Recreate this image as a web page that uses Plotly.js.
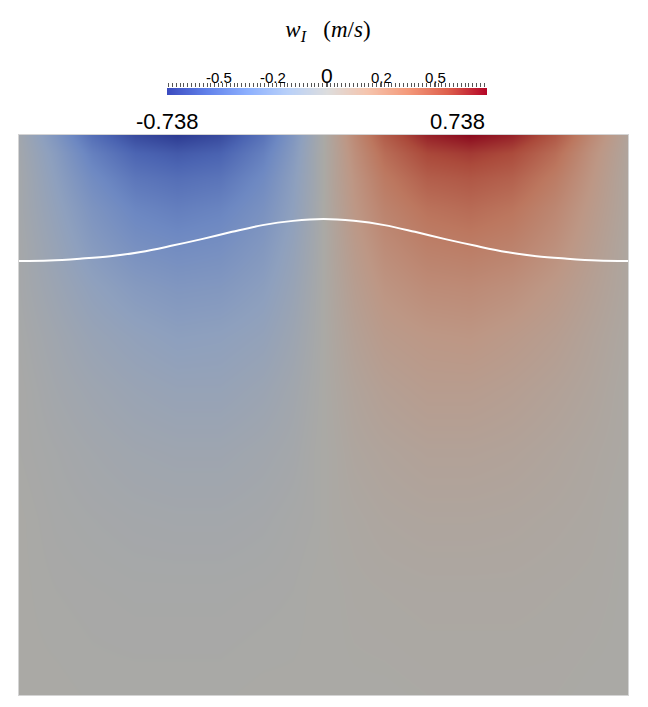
<!DOCTYPE html>
<html>
<head>
<meta charset="utf-8">
<script src="https://cdn.plot.ly/plotly-3.0.1.min.js"></script>
<style>html,body{margin:0;padding:0;background:#fff;}#chart{width:648px;height:707px;}</style>
</head>
<body>
<div id="chart"></div>
<script>
// ---- field sample grid (x across the domain, elevation downward from the top) ----
const gridX = [0, 0.6, 1.2, 1.9, 2.6, 3.3, 4.0, 4.5, 4.85, 5.15, 5.5, 6.0, 6.7, 7.4, 8.1, 8.8, 9.4, 10];
const gridDepth = [0, -0.3, -0.7, -1.2, -1.8, -2.5, -3.3, -4.2, -5.2, -6.3, -7.5, -9.2];

// w_I values (m/s), one row per elevation in gridDepth
const wRow00 = [-0.06, -0.27, -0.50, -0.67, -0.738, -0.67, -0.48, -0.26, -0.08, 0.08, 0.26, 0.48, 0.67, 0.738, 0.67, 0.50, 0.27, 0.06];
const wRow03 = [-0.05, -0.22, -0.41, -0.55, -0.60, -0.56, -0.41, -0.23, -0.07, 0.07, 0.23, 0.41, 0.56, 0.60, 0.55, 0.41, 0.22, 0.05];
const wRow07 = [-0.04, -0.19, -0.34, -0.46, -0.50, -0.47, -0.35, -0.20, -0.07, 0.07, 0.20, 0.35, 0.47, 0.50, 0.46, 0.34, 0.19, 0.04];
const wRow12 = [-0.04, -0.16, -0.28, -0.38, -0.42, -0.39, -0.30, -0.18, -0.06, 0.06, 0.18, 0.30, 0.39, 0.42, 0.38, 0.28, 0.16, 0.04];
const wRow18 = [-0.03, -0.13, -0.23, -0.31, -0.34, -0.32, -0.25, -0.15, -0.05, 0.05, 0.15, 0.25, 0.32, 0.34, 0.31, 0.23, 0.13, 0.03];
const wRow25 = [-0.03, -0.10, -0.17, -0.23, -0.26, -0.25, -0.20, -0.12, -0.04, 0.04, 0.12, 0.20, 0.25, 0.26, 0.23, 0.17, 0.10, 0.03];
const wRow33 = [-0.02, -0.07, -0.12, -0.16, -0.19, -0.18, -0.15, -0.09, -0.03, 0.03, 0.09, 0.15, 0.18, 0.19, 0.16, 0.12, 0.07, 0.02];
const wRow42 = [-0.01, -0.05, -0.08, -0.11, -0.13, -0.13, -0.10, -0.06, -0.02, 0.02, 0.06, 0.10, 0.13, 0.13, 0.11, 0.08, 0.05, 0.01];
const wRow52 = [-0.01, -0.03, -0.05, -0.07, -0.08, -0.08, -0.06, -0.04, -0.01, 0.01, 0.04, 0.06, 0.08, 0.08, 0.07, 0.05, 0.03, 0.01];
const wRow63 = [0, -0.02, -0.03, -0.04, -0.045, -0.045, -0.035, -0.02, -0.01, 0.01, 0.02, 0.035, 0.045, 0.045, 0.04, 0.03, 0.02, 0];
const wRow75 = [0, -0.01, -0.015, -0.02, -0.02, -0.02, -0.015, -0.01, 0, 0, 0.01, 0.015, 0.02, 0.02, 0.02, 0.015, 0.01, 0];
const wRow92 = [0, 0, -0.005, -0.005, -0.005, -0.005, 0, 0, 0, 0, 0, 0, 0.005, 0.005, 0.005, 0.005, 0, 0];

// ---- interface (white curve) ----
const ifaceX = [0, 0.5, 1, 1.5, 2, 2.5, 3, 3.5, 4, 4.5, 5, 5.5, 6, 6.5, 7, 7.5, 8, 8.5, 9, 9.5, 10];
const ifaceY = [-2.07, -2.06, -2.03, -1.99, -1.92, -1.82, -1.71, -1.59, -1.48, -1.41, -1.38, -1.41, -1.48, -1.59, -1.71, -1.82, -1.92, -1.99, -2.03, -2.06, -2.07];

// ---- colour bar ----
const cbRange = [-0.738, 0.738];
const cbTickVals = [-0.5, -0.25, 0, 0.25, 0.5];
const cbTickText = ['-0.5', '-0.2', '0', '0.2', '0.5'];
const cbRangeText = ['-0.738', '0.738'];

// ---- colour scales ----
const coolwarm = [
  [0, 'rgb(59,76,192)'], [0.125, 'rgb(98,130,234)'], [0.25, 'rgb(141,176,254)'],
  [0.375, 'rgb(184,208,249)'], [0.5, 'rgb(221,221,221)'], [0.625, 'rgb(245,196,173)'],
  [0.75, 'rgb(244,154,123)'], [0.875, 'rgb(222,96,77)'], [1, 'rgb(180,4,38)']
];
const shadedCoolwarm = [
  [0, 'rgb(45,59,146)'], [0.125, 'rgb(75,100,178)'], [0.25, 'rgb(109,136,194)'],
  [0.375, 'rgb(142,160,190)'], [0.5, 'rgb(170,169,165)'], [0.625, 'rgb(189,151,133)'],
  [0.75, 'rgb(188,119,95)'], [0.875, 'rgb(171,74,59)'], [1, 'rgb(139,10,30)']
];

const rowsTopDown = [wRow00, wRow03, wRow07, wRow12, wRow18, wRow25, wRow33, wRow42, wRow52, wRow63, wRow75, wRow92];
const yAsc = gridDepth.slice().reverse();
const zAsc = rowsTopDown.slice().reverse();

const H = 707, W = 648;
const mT = 20, mB = 12, mL = 19, mR = 20;
const plotH = H - mT - mB; // 675
const plotW = W - mL - mR; // 609
const py = p => (H - mB - p) / plotH; // pixel y -> paper y
const px = p => (p - mL) / plotW;

const traces = [
  {
    type: 'heatmap', x: gridX, y: yAsc, z: zAsc,
    zmin: cbRange[0], zmax: cbRange[1], colorscale: shadedCoolwarm,
    zsmooth: 'best', showscale: false, hoverinfo: 'skip',
    xaxis: 'x', yaxis: 'y'
  },
  {
    type: 'scatter', mode: 'lines', x: ifaceX, y: ifaceY,
    line: {color: '#ffffff', width: 2, shape: 'spline'},
    hoverinfo: 'skip', showlegend: false, xaxis: 'x', yaxis: 'y'
  },
  {
    type: 'heatmap', x: cbRange, y: [0, 1], z: [cbRange, cbRange],
    zmin: cbRange[0], zmax: cbRange[1], colorscale: coolwarm,
    zsmooth: 'best', showscale: false, hoverinfo: 'skip',
    xaxis: 'x2', yaxis: 'y2'
  }
];

const sansFont = 'Liberation Sans, Arial, sans-serif';
const tickAnnotations = cbTickVals.map((v, i) => ({
  xref: 'x2', x: v, yref: 'paper', y: py(cbTickText[i] === '0' ? 75.8 : 77.5),
  xanchor: 'center', yanchor: 'middle', showarrow: false, text: cbTickText[i],
  font: {family: sansFont, size: cbTickText[i] === '0' ? 21 : 15, color: '#000'}
}));

const layout = {
  width: W, height: H,
  margin: {l: mL, r: mR, t: mT, b: mB, pad: 0},
  paper_bgcolor: '#ffffff', plot_bgcolor: '#ffffff',
  showlegend: false,
  title: {
    text: '<i>w</i><sub><i>I</i></sub>&nbsp;&nbsp;&nbsp;(<i>m</i>/<i>s</i>)',
    font: {family: 'Liberation Serif, serif', size: 23, color: '#000'},
    x: 328 / W, xanchor: 'center', xref: 'container',
    y: (H - 29) / H, yanchor: 'middle', yref: 'container'
  },
  xaxis: {
    domain: [0, 1], range: [0, 10], showgrid: false, zeroline: false,
    showticklabels: false, ticks: '', showline: true, mirror: true,
    linecolor: '#d4d4d4', linewidth: 1, fixedrange: true
  },
  yaxis: {
    domain: [0, py(135)], range: [-9.195, 0], showgrid: false, zeroline: false,
    showticklabels: false, ticks: '', showline: true, mirror: true,
    linecolor: '#d4d4d4', linewidth: 1, fixedrange: true
  },
  xaxis2: {
    domain: [px(167), px(487)], range: cbRange, anchor: 'y2', side: 'top',
    showgrid: false, zeroline: false, showline: false,
    tickmode: 'array', tickvals: cbTickVals, showticklabels: false,
    ticks: 'outside', ticklen: 4, tickwidth: 1, tickcolor: '#555',
    minor: {tickmode: 'linear', tick0: -0.5, dtick: 0.01776, ticks: 'outside', ticklen: 4, tickwidth: 1, tickcolor: '#555', showgrid: false},
    fixedrange: true
  },
  yaxis2: {
    domain: [py(95), py(88)], range: [0, 1], anchor: 'x2',
    showgrid: false, zeroline: false, showticklabels: false, ticks: '', showline: false,
    fixedrange: true
  },
  annotations: tickAnnotations.concat([
    {xref: 'x2', x: cbRange[0], yref: 'paper', y: py(121), xanchor: 'center', yanchor: 'middle',
     text: cbRangeText[0], showarrow: false, font: {family: sansFont, size: 22, color: '#000'}},
    {xref: 'x2', x: cbRange[1], yref: 'paper', y: py(121), xanchor: 'right', yanchor: 'middle',
     text: cbRangeText[1], showarrow: false, font: {family: sansFont, size: 22, color: '#000'}}
  ])
};

Plotly.newPlot('chart', traces, layout, {displayModeBar: false, staticPlot: true});
</script>
</body>
</html>
